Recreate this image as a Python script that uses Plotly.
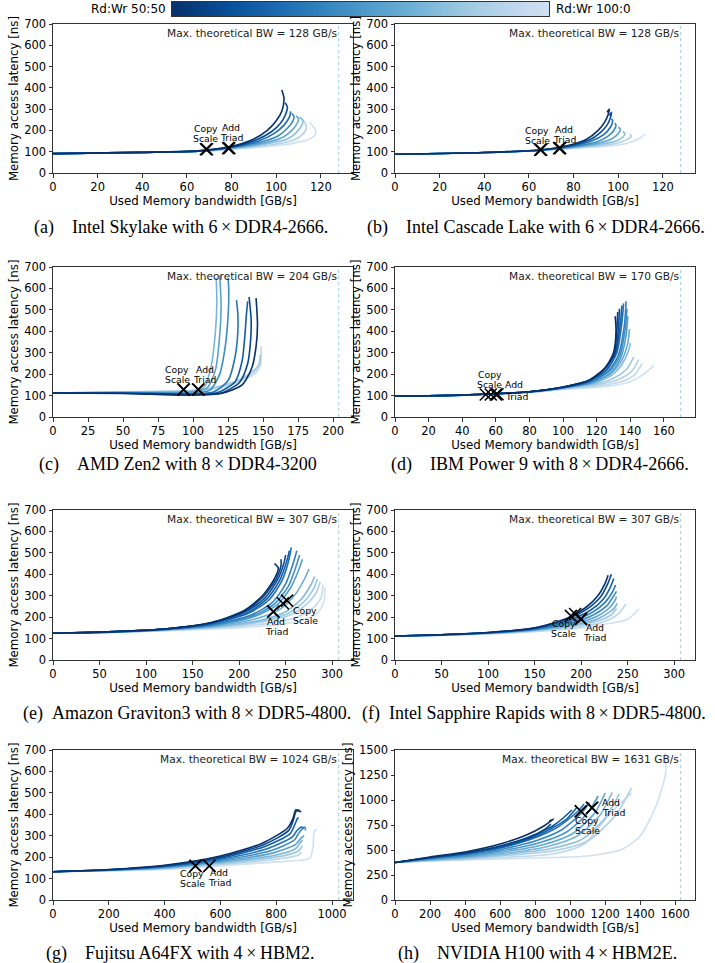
import plotly.graph_objects as go
from plotly.colors import sample_colorscale

W, H = 715, 963

# ---------------- data ----------------
# (a) Intel Skylake
skylake_bw = [
    [0, 40, 65, 80, 90, 96, 100, 102.5, 103.5, 102.5],
    [0, 40, 65, 80, 91, 98, 102, 104, 105, 104],
    [0, 40, 65, 80, 92, 99, 103.5, 106, 106.5],
    [0, 40, 65, 80, 93, 101, 105, 107.5, 108, 107],
    [0, 40, 65, 82, 95, 103, 107, 109.5, 110, 109],
    [0, 40, 65, 82, 96, 105, 109, 111.5, 112, 110.5],
    [0, 40, 65, 84, 98, 107, 111.5, 113.5, 113, 111.5],
    [0, 40, 65, 85, 100, 110, 115, 117.5, 117.5, 116, 115],
]
skylake_lat = [
    [91, 97, 104, 125, 160, 200, 245, 290, 350, 390],
    [91, 97, 104, 123, 155, 195, 235, 270, 310, 330],
    [91, 97, 103, 121, 150, 185, 225, 265, 290],
    [91, 97, 103, 120, 145, 175, 210, 245, 265, 280],
    [91, 97, 103, 120, 142, 168, 200, 235, 255, 268],
    [91, 97, 102, 118, 138, 160, 190, 225, 245, 262],
    [91, 96, 102, 117, 133, 152, 178, 210, 235, 255],
    [91, 96, 102, 115, 128, 145, 160, 180, 205, 225, 240],
]
# (b) Intel Cascade Lake
cascade_bw = [
    [0, 40, 65, 78, 86, 91, 94, 95.5, 96, 95],
    [0, 40, 65, 78, 87, 92, 95, 96.5, 97, 96],
    [0, 40, 65, 79, 88, 93.5, 96.5, 97.5, 97],
    [0, 40, 65, 80, 90, 95, 98, 99, 98.5],
    [0, 40, 65, 81, 91, 97, 100, 101, 100],
    [0, 40, 65, 82, 93, 99, 102, 103, 102],
    [0, 40, 65, 83, 95, 101, 104.5, 106, 105],
    [0, 40, 65, 84, 97, 104, 109, 112],
]
cascade_lat = [
    [88, 96, 108, 130, 160, 200, 240, 275, 300, 285],
    [88, 96, 108, 128, 155, 190, 225, 260, 285, 270],
    [88, 96, 108, 127, 150, 180, 215, 245, 255],
    [88, 96, 107, 125, 145, 170, 200, 225, 235],
    [88, 96, 107, 124, 140, 160, 185, 205, 215],
    [88, 96, 107, 122, 136, 150, 168, 185, 195],
    [88, 96, 106, 120, 132, 145, 160, 175, 182],
    [88, 95, 106, 118, 128, 140, 160, 183],
]
# (c) AMD Zen2
zen2_bw = [
    [0, 50, 100, 120, 135, 142, 145, 146, 145],
    [0, 50, 100, 120, 133, 139, 141, 141.5, 140],
    [0, 50, 100, 118, 130, 135, 137, 138, 139],
    [0, 50, 100, 115, 125, 130, 132, 132, 131],
    [0, 50, 100, 112, 119, 123, 125, 125.5, 125],
    [0, 50, 100, 110, 116, 119, 120, 119],
    [0, 50, 100, 108, 113, 116, 117, 116.5],
    [0, 50, 100, 120, 135, 143, 147, 148],
    [0, 50, 100, 120, 135, 144, 148, 148.5],
    [0, 50, 100, 120, 135, 145, 148],
]
zen2_lat = [
    [112, 110, 103, 110, 150, 230, 330, 430, 555],
    [112, 111, 104, 112, 160, 250, 350, 450, 560],
    [112, 112, 106, 115, 165, 260, 380, 470, 540],
    [112, 112, 108, 118, 170, 280, 400, 480, 545],
    [112, 113, 112, 125, 200, 330, 470, 590, 650],
    [112, 114, 118, 135, 220, 380, 520, 660],
    [112, 115, 120, 140, 240, 400, 540, 650],
    [112, 118, 125, 145, 180, 215, 245, 290],
    [112, 117, 122, 140, 175, 210, 240, 330],
    [112, 116, 120, 135, 170, 205, 250],
]
# (d) IBM Power 9
power9_bw = [
    [0, 40, 80, 100, 115, 125, 130, 131.5, 131],
    [0, 40, 80, 100, 115, 125, 130.5, 132, 132.5],
    [0, 40, 80, 100, 115, 125, 131, 133, 133.5],
    [0, 40, 80, 100, 115, 126, 131.5, 134, 135],
    [0, 40, 80, 100, 115, 126, 132, 135, 136],
    [0, 40, 80, 100, 116, 127, 133, 136.5, 137.5],
    [0, 40, 80, 100, 116, 127, 133.5, 137, 138],
    [0, 40, 80, 100, 117, 128, 134, 137.5, 138.5],
    [0, 40, 80, 100, 117, 128, 134.5, 138.5, 139.5],
    [0, 40, 80, 100, 118, 129, 135, 139, 140],
    [0, 40, 80, 100, 120, 131, 138, 142],
    [0, 40, 80, 100, 120, 133, 141, 145],
    [0, 40, 80, 100, 122, 136, 143, 147],
    [0, 40, 80, 100, 125, 140, 148, 154],
]
power9_lat = [
    [97, 103, 118, 140, 170, 230, 300, 400, 470],
    [97, 103, 118, 140, 169, 228, 300, 410, 490],
    [97, 103, 118, 139, 168, 225, 300, 420, 505],
    [97, 103, 118, 138, 166, 222, 300, 430, 520],
    [97, 103, 118, 138, 165, 220, 300, 440, 530],
    [97, 103, 118, 137, 163, 215, 290, 430, 540],
    [97, 103, 118, 137, 162, 210, 280, 410, 505],
    [97, 102, 117, 136, 160, 205, 270, 380, 470],
    [97, 102, 117, 136, 159, 200, 258, 345, 410],
    [97, 102, 117, 135, 157, 195, 245, 310, 345],
    [97, 102, 117, 134, 155, 185, 225, 280],
    [97, 102, 116, 132, 150, 175, 215, 268],
    [97, 102, 116, 130, 146, 168, 200, 250],
    [97, 102, 115, 128, 142, 165, 200, 240],
]
# (e) Amazon Graviton3
graviton3_bw = [
    [0, 60, 120, 170, 205, 225, 238, 242, 238],
    [0, 60, 120, 170, 206, 226, 240, 245, 245],
    [0, 60, 120, 170, 207, 228, 242, 248, 250],
    [0, 60, 120, 171, 209, 230, 244, 251, 254],
    [0, 60, 120, 172, 210, 232, 246, 253, 256],
    [0, 60, 120, 174, 213, 236, 250, 258, 262],
    [0, 60, 120, 175, 215, 238, 253, 261, 265],
    [0, 60, 120, 176, 216, 240, 255, 264, 268],
    [0, 60, 120, 178, 220, 245, 261, 271, 275],
    [0, 60, 120, 180, 224, 250, 267, 277, 281],
    [0, 60, 120, 181, 226, 253, 270, 280, 284],
    [0, 60, 120, 182, 228, 256, 273, 283, 287],
    [0, 60, 120, 185, 233, 262, 279, 288, 290],
    [0, 60, 120, 190, 240, 268, 284, 291, 292],
]
graviton3_lat = [
    [125, 132, 145, 175, 230, 300, 380, 430, 450],
    [125, 132, 145, 174, 228, 295, 380, 440, 470],
    [125, 132, 145, 172, 225, 290, 380, 450, 490],
    [125, 131, 144, 171, 221, 285, 375, 458, 510],
    [125, 131, 144, 170, 218, 280, 370, 460, 525],
    [125, 131, 143, 167, 210, 270, 355, 450, 510],
    [125, 130, 142, 165, 206, 262, 345, 435, 490],
    [125, 130, 142, 164, 202, 255, 335, 420, 470],
    [125, 130, 141, 161, 195, 240, 310, 385, 425],
    [125, 130, 140, 158, 187, 225, 285, 350, 390],
    [125, 129, 139, 156, 183, 218, 273, 332, 378],
    [125, 129, 139, 155, 180, 212, 262, 315, 365],
    [125, 129, 138, 152, 172, 200, 240, 290, 350],
    [125, 128, 136, 148, 163, 185, 220, 270, 340],
]
# (f) Intel Sapphire Rapids
sapphire_bw = [
    [0, 50, 100, 150, 185, 205, 218, 226, 229],
    [0, 50, 100, 150, 186, 207, 221, 229, 232.5],
    [0, 50, 100, 150, 188, 210, 224, 232, 235],
    [0, 50, 100, 150, 190, 212, 226, 234, 237],
    [0, 50, 100, 150, 192, 214, 228, 235, 238],
    [0, 50, 100, 150, 194, 216, 229, 236, 238],
    [0, 50, 100, 150, 196, 218, 230, 237, 238.5],
    [0, 50, 100, 150, 198, 220, 232, 238],
    [0, 50, 100, 150, 200, 225, 240, 248],
    [0, 50, 100, 150, 200, 230, 250, 262],
]
sapphire_lat = [
    [112, 118, 128, 150, 195, 245, 300, 360, 395],
    [112, 118, 128, 149, 192, 240, 295, 360, 400],
    [112, 118, 127, 147, 187, 232, 285, 345, 380],
    [112, 117, 127, 145, 182, 222, 270, 320, 350],
    [112, 117, 126, 143, 177, 212, 255, 300, 320],
    [112, 117, 126, 141, 172, 202, 238, 275, 295],
    [112, 116, 125, 139, 167, 193, 222, 250, 265],
    [112, 116, 124, 137, 162, 185, 210, 240],
    [112, 116, 123, 135, 157, 180, 215, 262],
    [112, 115, 121, 132, 150, 170, 190, 238],
]
# (g) Fujitsu A64FX
a64fx_bw = [
    [0, 200, 400, 600, 750, 840, 860, 870, 885],
    [0, 200, 400, 600, 755, 845, 862, 872, 890],
    [0, 200, 400, 600, 760, 850, 866, 876, 880],
    [0, 200, 400, 600, 770, 858, 875, 890, 900],
    [0, 200, 400, 600, 780, 865, 885, 903, 905],
    [0, 200, 400, 600, 790, 870, 890, 900],
    [0, 200, 400, 600, 800, 870, 888, 895],
    [0, 200, 400, 600, 800, 875, 890, 893],
    [0, 200, 400, 600, 800, 880, 890],
    [0, 200, 400, 600, 800, 920, 932, 936, 945],
]
a64fx_lat = [
    [132, 142, 162, 205, 265, 335, 380, 420, 418],
    [132, 141, 160, 200, 258, 325, 375, 415, 412],
    [132, 141, 158, 195, 250, 310, 350, 380, 385],
    [132, 140, 156, 190, 240, 295, 325, 340, 335],
    [132, 140, 154, 185, 230, 280, 320, 340, 325],
    [132, 139, 152, 180, 220, 260, 290, 300],
    [132, 139, 150, 175, 210, 240, 270, 280],
    [132, 138, 148, 170, 200, 225, 245, 255],
    [132, 137, 146, 165, 190, 210, 225],
    [132, 136, 143, 160, 178, 195, 250, 320, 330],
]
# (h) NVIDIA H100
h100_bw = [
    [0, 200, 400, 600, 750, 850, 905, 880],
    [0, 200, 400, 600, 750, 850, 890],
    [0, 200, 400, 600, 760, 860, 900, 960, 1010],
    [0, 200, 400, 600, 770, 890, 980, 1040],
    [0, 200, 400, 600, 780, 920, 1040, 1080],
    [0, 200, 400, 600, 800, 950, 1070, 1110],
    [0, 200, 400, 600, 820, 980, 1100, 1160],
    [0, 200, 400, 600, 840, 1010, 1140, 1200],
    [0, 200, 400, 600, 860, 1040, 1170, 1240],
    [0, 200, 400, 600, 880, 1070, 1200, 1280],
    [0, 200, 400, 600, 900, 1100, 1260, 1350],
    [0, 200, 400, 600, 900, 1080, 1220, 1350],
    [0, 300, 600, 900, 1100, 1300, 1400, 1490, 1545, 1540],
]
h100_lat = [
    [375, 430, 480, 560, 650, 740, 810, 790],
    [375, 425, 470, 540, 620, 700, 760],
    [375, 423, 466, 532, 615, 705, 740, 820, 900],
    [375, 421, 463, 526, 612, 712, 810, 930],
    [375, 420, 460, 520, 610, 720, 880, 960],
    [375, 415, 450, 505, 590, 700, 880, 975],
    [375, 410, 440, 490, 570, 680, 870, 1040],
    [375, 405, 432, 475, 550, 660, 870, 1070],
    [375, 400, 425, 460, 530, 640, 850, 1075],
    [375, 398, 418, 450, 510, 610, 820, 1060],
    [375, 395, 410, 440, 490, 590, 850, 1120],
    [375, 392, 405, 425, 460, 560, 850, 1070],
    [375, 395, 410, 425, 440, 510, 640, 940, 1270, 1470],
]

max_theoretical_bw = [128, 128, 204, 170, 307, 307, 1024, 1631]
y_max = [700, 700, 700, 700, 700, 700, 700, 1500]
x_tick_step = [20, 20, 25, 20, 50, 50, 200, 200]
y_tick_step = [100, 100, 100, 100, 100, 100, 100, 250]

# STREAM kernels (bandwidth GB/s, latency ns)
copy_bw = [68.5, 65, 93, 54, 247, 189, 510, 1060]
copy_lat = [112, 109, 128, 105, 265, 206, 159, 887]
scale_bw = [69, 65.5, 93.5, 57, 251.5, 193.5, 511, 1062]
scale_lat = [112, 109, 128, 105, 277, 215, 160, 888]
add_bw = [78.5, 73.5, 103.5, 60, 236.5, 199.5, 560, 1124]
add_lat = [117, 116, 128, 105, 225, 191, 159, 921]
triad_bw = [79, 74, 104, 61, 237, 200, 561, 1126]
triad_lat = [117, 117, 128, 106, 226, 192, 160, 922]

captions = [
    "(a)\u2003Intel Skylake with 6\u2009×\u2009DDR4-2666.",
    "(b)\u2003Intel Cascade Lake with 6\u2009×\u2009DDR4-2666.",
    "(c)\u2003AMD Zen2 with 8\u2009×\u2009DDR4-3200",
    "(d)\u2003IBM Power 9 with 8\u2009×\u2009DDR4-2666.",
    "(e)\u2002Amazon Graviton3 with 8\u2009×\u2009DDR5-4800.",
    "(f)\u2002Intel Sapphire Rapids with 8\u2009×\u2009DDR5-4800.",
    "(g)\u2003Fujitsu A64FX with 4\u2009×\u2009HBM2.",
    "(h)\u2003NVIDIA H100 with 4\u2009×\u2009HBM2E.",
]
colorbar_left_label = "Rd:Wr 50:50"
colorbar_right_label = "Rd:Wr 100:0"

curve_bw = [skylake_bw, cascade_bw, zen2_bw, power9_bw, graviton3_bw, sapphire_bw, a64fx_bw, h100_bw]
curve_lat = [skylake_lat, cascade_lat, zen2_lat, power9_lat, graviton3_lat, sapphire_lat, a64fx_lat, h100_lat]

# ---------------- layout / style ----------------
SANS = "DejaVu Sans"
SERIF = "Liberation Serif"
col_px = [(53, 353), (395, 695)]
row_px = [(24, 173), (267, 417), (510, 660), (750, 900)]
caption_px = [(181, 227), (536, 227), (178, 465), (540, 465),
              (187, 713), (534, 713), (180, 953), (537, 953)]

cs_style = [("copy", "center", 0, [21, 11]), ("copy", "center", -3, [19, 9]),
            ("copy", "center", -6, [20, 10]), ("copy", "center", 4, [20, 10]),
            ("scale", "left", 4, [-10, -20]), ("copy", "center", -7, [-8, -18]),
            ("copy", "center", -3, [-8, -18]), ("copy", "left", -8, [-9, -19])]
at_style = [("add", "center", 3, [21, 11]), ("add", "center", 5, [19, 9]),
            ("add", "center", 7, [20, 10]), ("triad", "left", 5, [10, -2]),
            ("add", "center", 3, [-10, -20]), ("add", "center", 14, [-8, -18]),
            ("add", "center", 10, [-7, -17]), ("add", "left", 8, [5, -5])]


def blues(t):
    return sample_colorscale("Blues", [1.0 - 0.8 * t])[0]


fig = go.Figure()
annotations = []
shapes = []
layout_axes = {}

for k in range(8):
    n = k + 1
    xname = "x" if n == 1 else f"x{n}"
    yname = "y" if n == 1 else f"y{n}"
    xkey = "xaxis" if n == 1 else f"xaxis{n}"
    ykey = "yaxis" if n == 1 else f"yaxis{n}"
    c0, c1 = col_px[k % 2]
    r0, r1 = row_px[k // 2]
    mbw = max_theoretical_bw[k]

    axis_common = dict(showline=True, mirror=True, linecolor="#333", linewidth=1,
                       ticks="outside", ticklen=3.5, tickwidth=1, tickcolor="#333",
                       showgrid=False, zeroline=False, automargin=False,
                       tickfont=dict(family=SANS, size=11.5, color="black"))
    layout_axes[xkey] = dict(axis_common, domain=[c0 / W, c1 / W], anchor=yname,
                             range=[0, 1.05 * mbw], tick0=0, dtick=x_tick_step[k],
                             title=dict(text="Used Memory bandwidth [GB/s]", standoff=2,
                                        font=dict(family=SANS, size=11.8, color="black")))
    layout_axes[ykey] = dict(axis_common, domain=[1 - r1 / H, 1 - r0 / H], anchor=xname,
                             range=[0, y_max[k]], tick0=0, dtick=y_tick_step[k],
                             title=dict(text="Memory access latency [ns]", standoff=3,
                                        font=dict(family=SANS, size=11.8, color="black")))

    bws, lats = curve_bw[k], curve_lat[k]
    m = len(bws)
    for i in list(range(m))[::-1]:  # light first, dark on top
        fig.add_trace(go.Scatter(x=bws[i], y=lats[i], mode="lines",
                                 line=dict(color=blues(i / (m - 1)), width=1.6,
                                           shape="spline", smoothing=0.7),
                                 xaxis=xname, yaxis=yname, showlegend=False,
                                 hoverinfo="skip"))

    shapes.append(dict(type="line", xref=xname, yref=f"{yname} domain",
                       x0=mbw, x1=mbw, y0=0, y1=1,
                       line=dict(color="#9ecae1", width=1, dash="dot")))
    annotations.append(dict(xref=xname, yref=f"{yname} domain", x=mbw, y=1,
                            xanchor="right", yanchor="top", yshift=-1, showarrow=False,
                            text=f"Max. theoretical BW = {mbw} GB/s",
                            font=dict(family=SANS, size=10.6, color="#222")))

    fig.add_trace(go.Scatter(x=[copy_bw[k], scale_bw[k], add_bw[k], triad_bw[k]],
                             y=[copy_lat[k], scale_lat[k], add_lat[k], triad_lat[k]],
                             mode="markers",
                             marker=dict(symbol="x-thin", size=12,
                                         line=dict(width=1.5, color="black")),
                             xaxis=xname, yaxis=yname, showlegend=False, hoverinfo="skip"))
    pts = {"copy": (copy_bw[k], copy_lat[k]), "scale": (scale_bw[k], scale_lat[k]),
           "add": (add_bw[k], add_lat[k]), "triad": (triad_bw[k], triad_lat[k])}
    for style, words in ((cs_style[k], ["Copy", "Scale"]), (at_style[k], ["Add", "Triad"])):
        ref, anchor, dx, dys = style
        px, py = pts[ref]
        for word, dy in zip(words, dys):
            annotations.append(dict(xref=xname, yref=yname, x=px, y=py, text=word,
                                    showarrow=False, xanchor=anchor, yanchor="middle",
                                    xshift=dx, yshift=dy,
                                    font=dict(family=SANS, size=9.3, color="black")))

    cx, cy = caption_px[k]
    annotations.append(dict(xref="paper", yref="paper", x=cx / W, y=1 - cy / H,
                            text=captions[k], showarrow=False, xanchor="center",
                            yanchor="middle",
                            font=dict(family=SERIF, size=18, color="black")))

# colour bar drawn as a gradient strip in its own axes
cb_n = 41
cb_pos = [i / (cb_n - 1) for i in range(cb_n)]
cb_colors = sample_colorscale("Blues", [1.0 - 0.8 * p for p in cb_pos])
cb_scale = [[p, c] for p, c in zip(cb_pos, cb_colors)]
fig.add_trace(go.Heatmap(z=[cb_pos], x=cb_pos, y=[0], colorscale=cb_scale, zmin=0, zmax=1,
                         zsmooth="best", showscale=False, hoverinfo="skip",
                         xaxis="x9", yaxis="y9"))
layout_axes["xaxis9"] = dict(domain=[172 / W, 549 / W], anchor="y9", range=[0, 1],
                             showline=True, mirror=True, linecolor="#333", linewidth=1,
                             showticklabels=False, ticks="", showgrid=False,
                             zeroline=False, automargin=False)
layout_axes["yaxis9"] = dict(domain=[1 - 16 / H, 1 - 2 / H], anchor="x9", range=[-0.5, 0.5],
                             showline=True, mirror=True, linecolor="#333", linewidth=1,
                             showticklabels=False, ticks="", showgrid=False,
                             zeroline=False, automargin=False)
annotations.append(dict(xref="paper", yref="paper", x=168 / W, y=1 - 9 / H,
                        xanchor="right", yanchor="middle", showarrow=False,
                        text=colorbar_left_label, font=dict(family=SANS, size=12, color="black")))
annotations.append(dict(xref="paper", yref="paper", x=554 / W, y=1 - 9 / H,
                        xanchor="left", yanchor="middle", showarrow=False,
                        text=colorbar_right_label, font=dict(family=SANS, size=12, color="black")))

fig.update_layout(width=W, height=H, margin=dict(l=0, r=0, t=0, b=0, autoexpand=False),
                  paper_bgcolor="white", plot_bgcolor="white",
                  annotations=annotations, shapes=shapes, showlegend=False,
                  **layout_axes)

fig.write_html("out.html", config={"displayModeBar": False},
               post_script="document.body.style.margin='0px';"
                           "document.body.style.overflow='hidden';")
